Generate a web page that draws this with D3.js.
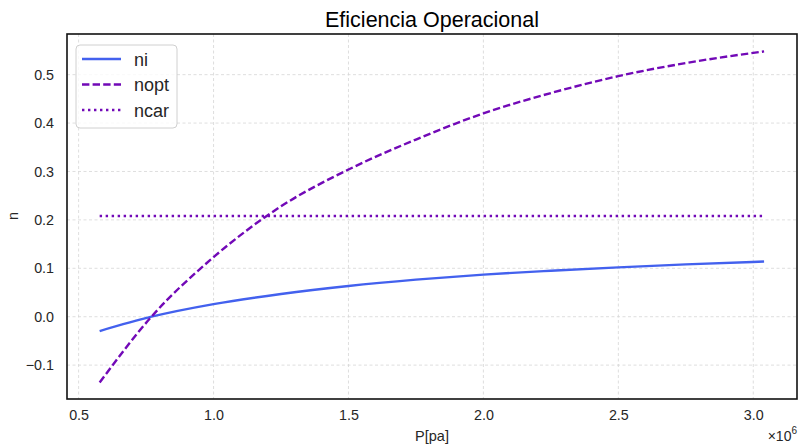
<!DOCTYPE html>
<html>
<head>
<meta charset="utf-8">
<script src="https://cdn.jsdelivr.net/npm/d3@7"></script>
<style>
    body { margin: 0; background: #fff; }
    svg { font-family: "Liberation Sans", Arial, sans-serif; }
</style>
</head>
<body>
<svg id="graph-svg" width="801" height="446"></svg>
<script>
// pressure [Pa]
const pressure = [0.578e6, 0.77e6, 1.0e6, 1.25e6, 1.5e6, 1.75e6, 2.0e6, 2.25e6, 2.5e6, 2.75e6, 3.04e6]
const ni   = [-0.0296, 0.0, 0.026, 0.047, 0.0635, 0.0765, 0.087, 0.095, 0.102, 0.108, 0.1139]
const nopt = [-0.136, 0.0, 0.123, 0.228, 0.304, 0.366, 0.42, 0.462, 0.497, 0.524, 0.548]
const ncar = [0.208, 0.208, 0.208, 0.208, 0.208, 0.208, 0.208, 0.208, 0.208, 0.208, 0.208]
const xTicks = [0.5e6, 1.0e6, 1.5e6, 2.0e6, 2.5e6, 3.0e6]
const yTicks = [-0.1, 0.0, 0.1, 0.2, 0.3, 0.4, 0.5]

const series = [
    { name: 'ni', values: ni, colour: '#4361ee', dash: null },
    { name: 'nopt', values: nopt, colour: '#7209b7', dash: '7.4,3.2' },
    { name: 'ncar', values: ncar, colour: '#7209b7', dash: '2.4,3.6' },
]

const margin = { left: 67, right: 4, top: 34, bottom: 47 }
const width = 801, height = 446

const svg = d3.select('#graph-svg')

const xScale = d3.scaleLinear()
    .domain([0.457e6, 3.162e6])
    .range([margin.left, width - margin.right])
const yScale = d3.scaleLinear()
    .domain([-0.170, 0.584])
    .range([height - margin.bottom, margin.top])

// grid
svg.append('g')
    .selectAll('line.vgrid')
    .data(xTicks)
    .join('line')
    .attr('x1', d => xScale(d)).attr('x2', d => xScale(d))
    .attr('y1', margin.top).attr('y2', height - margin.bottom)
    .attr('stroke', '#d6d6d6').attr('stroke-width', 0.8)
    .attr('stroke-dasharray', '3,2.5')
svg.append('g')
    .selectAll('line.hgrid')
    .data(yTicks)
    .join('line')
    .attr('y1', d => yScale(d)).attr('y2', d => yScale(d))
    .attr('x1', margin.left).attr('x2', width - margin.right)
    .attr('stroke', '#d6d6d6').attr('stroke-width', 0.8)
    .attr('stroke-dasharray', '3,2.5')

// axes (labels only, no tick marks)
const xAxis = svg.append('g')
    .attr('transform', `translate(0,${height - margin.bottom})`)
    .call(d3.axisBottom(xScale).tickValues(xTicks)
        .tickFormat(d => d3.format('.1f')(d / 1e6)).tickSize(0).tickPadding(11))
const yAxis = svg.append('g')
    .attr('transform', `translate(${margin.left},0)`)
    .call(d3.axisLeft(yScale).tickValues(yTicks)
        .tickFormat(d => d3.format('.1f')(d).replace('-', '\u2212')).tickSize(0).tickPadding(13))
for (const ax of [xAxis, yAxis]) {
    ax.select('.domain').remove()
    ax.selectAll('text')
        .attr('font-size', 14.3)
        .attr('font-family', '"Liberation Sans", Arial, sans-serif')
        .attr('fill', '#262626')
}

// lines
const line = d3.line()
    .x((d, i) => xScale(pressure[i]))
    .y(d => yScale(d))
    .curve(d3.curveMonotoneX)

svg.append('g')
    .selectAll('path.series')
    .data(series)
    .join('path')
    .attr('class', 'series')
    .attr('d', d => line(d.values))
    .attr('fill', 'none')
    .attr('stroke', d => d.colour)
    .attr('stroke-width', 2.4)
    .attr('stroke-dasharray', d => d.dash)

// frame
svg.append('rect')
    .attr('x', margin.left).attr('y', margin.top)
    .attr('width', width - margin.left - margin.right)
    .attr('height', height - margin.top - margin.bottom)
    .attr('fill', 'none').attr('stroke', '#111').attr('stroke-width', 1.6)

// legend
const legend = svg.append('g')
legend.append('rect')
    .attr('x', 76).attr('y', 45).attr('width', 101).attr('height', 83)
    .attr('rx', 4)
    .attr('fill', '#fff').attr('fill-opacity', 0.8)
    .attr('stroke', '#d0d0d0')
const items = legend.selectAll('g.item')
    .data(series)
    .join('g')
    .attr('transform', (d, i) => `translate(0,${59 + i * 25.5})`)
items.append('line')
    .attr('x1', 82).attr('x2', 121)
    .attr('stroke', d => d.colour)
    .attr('stroke-width', 2.4)
    .attr('stroke-dasharray', d => d.dash)
items.append('text')
    .attr('x', 134).attr('y', 6.5)
    .attr('font-size', 18)
    .attr('fill', '#262626')
    .text(d => d.name)

// titles
svg.append('text')
    .attr('x', (margin.left + width - margin.right) / 2).attr('y', 27)
    .attr('text-anchor', 'middle')
    .attr('font-size', 21.5)
    .attr('fill', '#000')
    .text('Eficiencia Operacional')
svg.append('text')
    .attr('x', (margin.left + width - margin.right) / 2).attr('y', 441)
    .attr('text-anchor', 'middle')
    .attr('font-size', 14.5)
    .attr('fill', '#262626')
    .text('P[pa]')
svg.append('text')
    .attr('transform', 'translate(17.5,216) rotate(-90)')
    .attr('text-anchor', 'middle')
    .attr('font-size', 14.5)
    .attr('fill', '#262626')
    .text('n')
const offset = svg.append('text')
    .attr('x', 797).attr('y', 441)
    .attr('text-anchor', 'end')
    .attr('font-size', 14)
    .attr('fill', '#262626')
offset.append('tspan').text('\u00d710')
offset.append('tspan').attr('dy', -7).attr('font-size', 10).text('6')
</script>
</body>
</html>
